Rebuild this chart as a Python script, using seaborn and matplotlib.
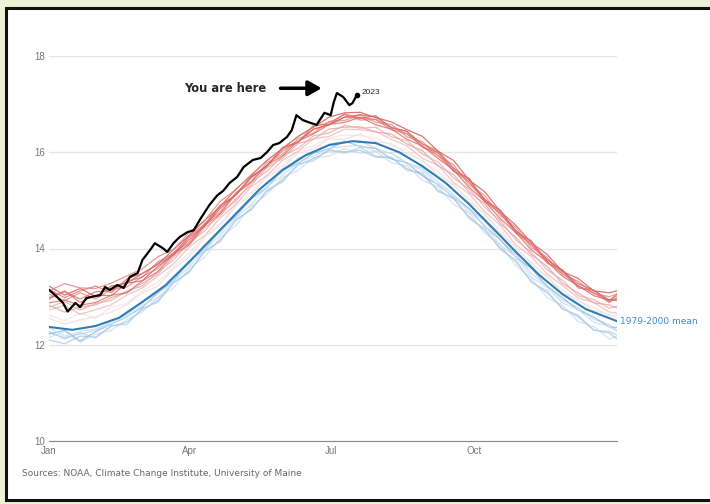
import matplotlib
matplotlib.use("Agg")
import matplotlib.pyplot as plt
from matplotlib.patches import Rectangle
import pandas as pd
import seaborn as sns

# day-of-year grid for the historical years (every 10 days)
days = [0, 10, 20, 30, 40, 50, 60, 70, 80, 90, 100, 110, 120, 130, 140, 150, 160, 170, 180,
        190, 200, 210, 220, 230, 240, 250, 260, 270, 280, 290, 300, 310, 320, 330, 340, 350, 360, 365]

# older years (blue)
y1979 = [12.25, 12.15, 12.22, 12.30, 12.48, 12.62, 12.88, 13.08, 13.42, 13.68, 14.08, 14.33, 14.72, 15.02, 15.38, 15.58,
         15.88, 15.98, 16.17, 16.22, 16.24, 16.08, 15.97, 15.78, 15.67, 15.38, 15.12, 14.83, 14.57, 14.18, 13.88, 13.48,
         13.22, 12.93, 12.77, 12.53, 12.42, 12.30]
y1982 = [12.15, 12.28, 12.05, 12.22, 12.30, 12.52, 12.68, 12.98, 13.18, 13.58, 13.82, 14.22, 14.48, 14.88, 15.12, 15.48,
         15.62, 15.88, 15.92, 16.08, 15.98, 16.02, 15.78, 15.72, 15.42, 15.28, 14.92, 14.74, 14.32, 14.08, 13.64, 13.38,
         12.98, 12.82, 12.48, 12.38, 12.12, 12.18]
y1985 = [12.10, 12.02, 12.18, 12.16, 12.38, 12.47, 12.73, 12.92, 13.28, 13.52, 13.93, 14.17, 14.58, 14.82, 15.18, 15.42,
         15.73, 15.87, 16.03, 16.01, 16.04, 15.90, 15.88, 15.66, 15.53, 15.21, 15.03, 14.66, 14.38, 14.01, 13.73, 13.31,
         13.08, 12.76, 12.58, 12.31, 12.24, 12.12]
y1988 = [12.28, 12.12, 12.25, 12.14, 12.40, 12.42, 12.76, 12.88, 13.30, 13.50, 13.96, 14.14, 14.60, 14.80, 15.22, 15.38,
         15.76, 15.82, 16.06, 15.98, 16.10, 15.92, 15.90, 15.62, 15.58, 15.18, 15.06, 14.62, 14.42, 13.98, 13.76, 13.30,
         13.12, 12.74, 12.62, 12.30, 12.28, 12.20]
y1992 = [12.22, 12.30, 12.08, 12.27, 12.43, 12.58, 12.78, 13.08, 13.33, 13.73, 13.98, 14.38, 14.67, 15.03, 15.27, 15.63,
         15.77, 15.98, 16.07, 16.23, 16.12, 16.08, 15.86, 15.78, 15.51, 15.33, 15.06, 14.83, 14.46, 14.18, 13.82, 13.58,
         13.22, 12.98, 12.72, 12.58, 12.37, 12.36]
y1996 = [12.35, 12.18, 12.28, 12.33, 12.43, 12.57, 12.83, 12.98, 13.32, 13.62, 13.98, 14.27, 14.63, 14.92, 15.28, 15.52,
         15.78, 15.92, 16.08, 16.12, 16.14, 16.02, 15.98, 15.76, 15.63, 15.31, 15.08, 14.76, 14.48, 14.06, 13.83, 13.41,
         13.18, 12.87, 12.73, 12.47, 12.38, 12.28]
# middle years (pale)
y2000 = [12.55, 12.43, 12.52, 12.58, 12.68, 12.83, 13.08, 13.22, 13.58, 13.83, 14.23, 14.47, 14.88, 15.12, 15.48, 15.67,
         15.98, 16.07, 16.28, 16.27, 16.38, 16.22, 16.18, 15.97, 15.83, 15.52, 15.33, 14.97, 14.73, 14.32, 14.03, 13.67,
         13.43, 13.07, 12.93, 12.72, 12.63, 12.55]
y2002 = [12.62, 12.50, 12.66, 12.55, 12.78, 12.86, 13.12, 13.30, 13.62, 13.90, 14.26, 14.52, 14.92, 15.18, 15.52, 15.72,
         16.02, 16.14, 16.30, 16.36, 16.34, 16.30, 16.14, 16.04, 15.80, 15.60, 15.30, 15.04, 14.70, 14.40, 14.00, 13.72,
         13.40, 13.14, 12.90, 12.78, 12.60, 12.62]
y2005 = [12.72, 12.82, 12.63, 12.73, 12.83, 13.03, 13.18, 13.43, 13.68, 14.03, 14.27, 14.63, 14.92, 15.28, 15.52, 15.83,
         16.02, 16.28, 16.33, 16.48, 16.47, 16.43, 16.27, 16.13, 15.87, 15.73, 15.37, 15.13, 14.77, 14.48, 14.07, 13.83,
         13.47, 13.23, 12.97, 12.88, 12.68, 12.66]
y2010 = [12.82, 12.68, 12.78, 12.83, 12.98, 13.08, 13.28, 13.47, 13.83, 14.07, 14.43, 14.68, 15.03, 15.32, 15.68, 15.87,
         16.18, 16.27, 16.48, 16.52, 16.53, 16.42, 16.38, 16.17, 16.03, 15.72, 15.53, 15.17, 14.93, 14.52, 14.23, 13.87,
         13.63, 13.27, 13.08, 12.87, 12.83, 12.76]
y2013 = [12.78, 12.90, 12.72, 12.86, 12.92, 13.12, 13.22, 13.52, 13.76, 14.12, 14.36, 14.74, 14.98, 15.38, 15.60, 15.92,
         16.08, 16.34, 16.40, 16.56, 16.50, 16.52, 16.32, 16.24, 15.96, 15.80, 15.46, 15.24, 14.86, 14.58, 14.18, 13.92,
         13.56, 13.34, 13.02, 12.94, 12.76, 12.80]
# recent years (red)
y2016 = [13.22, 13.03, 13.17, 13.00, 13.22, 13.28, 13.48, 13.67, 13.98, 14.27, 14.58, 14.87, 15.23, 15.52, 15.83, 16.07,
         16.33, 16.52, 16.73, 16.82, 16.83, 16.72, 16.63, 16.47, 16.33, 16.02, 15.83, 15.42, 15.18, 14.77, 14.48, 14.12,
         13.88, 13.52, 13.38, 13.12, 13.08, 13.12]
y2017 = [13.15, 12.98, 13.12, 13.22, 13.08, 13.37, 13.48, 13.68, 13.87, 14.23, 14.47, 14.88, 15.12, 15.48, 15.72, 16.03,
         16.22, 16.48, 16.57, 16.73, 16.72, 16.68, 16.47, 16.38, 16.12, 15.93, 15.62, 15.38, 15.02, 14.73, 14.37, 14.13,
         13.77, 13.53, 13.22, 13.08, 12.88, 12.98]
y2018 = [13.05, 12.92, 13.08, 12.95, 13.15, 13.20, 13.42, 13.58, 13.92, 14.12, 14.52, 14.76, 15.16, 15.40, 15.78, 15.96,
         16.28, 16.40, 16.64, 16.66, 16.78, 16.62, 16.58, 16.32, 16.22, 15.92, 15.74, 15.32, 15.10, 14.68, 14.44, 14.02,
         13.82, 13.46, 13.32, 13.06, 13.00, 13.05]
y2019 = [12.95, 13.12, 12.88, 13.03, 13.02, 13.28, 13.33, 13.63, 13.87, 14.18, 14.47, 14.83, 15.12, 15.48, 15.72, 16.08,
         16.22, 16.48, 16.57, 16.73, 16.78, 16.73, 16.52, 16.43, 16.17, 16.03, 15.67, 15.43, 15.02, 14.78, 14.37, 14.08,
         13.77, 13.53, 13.27, 13.13, 12.93, 12.92]
y2020 = [13.12, 13.27, 13.18, 13.17, 13.28, 13.43, 13.58, 13.83, 13.98, 14.33, 14.58, 14.98, 15.22, 15.53, 15.82, 16.08,
         16.32, 16.53, 16.62, 16.78, 16.67, 16.68, 16.52, 16.38, 16.17, 15.98, 15.67, 15.38, 14.97, 14.73, 14.32, 14.08,
         13.72, 13.48, 13.22, 13.08, 12.93, 13.02]
y2021 = [12.98, 13.10, 12.95, 13.10, 13.12, 13.32, 13.40, 13.72, 13.90, 14.26, 14.50, 14.90, 15.10, 15.50, 15.70, 16.10,
         16.20, 16.56, 16.58, 16.80, 16.70, 16.76, 16.50, 16.44, 16.10, 16.00, 15.60, 15.46, 14.98, 14.80, 14.34, 14.16,
         13.70, 13.56, 13.18, 13.14, 12.90, 13.06]
y2022 = [12.87, 12.93, 12.82, 12.88, 13.03, 13.08, 13.33, 13.52, 13.88, 14.08, 14.48, 14.72, 15.13, 15.38, 15.73, 15.92,
         16.23, 16.38, 16.58, 16.62, 16.73, 16.57, 16.48, 16.27, 16.13, 15.87, 15.63, 15.27, 14.98, 14.62, 14.33, 13.97,
         13.73, 13.42, 13.23, 13.02, 12.93, 12.95]

# 1979-2000 mean (every 15 days)
mean_days = [0, 15, 30, 45, 60, 75, 90, 105, 120, 135, 150, 165, 180, 195, 210, 225, 240, 255, 270, 285, 300, 315, 330, 345, 365]
mean_vals = [12.37, 12.31, 12.39, 12.56, 12.89, 13.24, 13.72, 14.22, 14.72, 15.22, 15.63, 15.94, 16.15, 16.23, 16.19, 16.00,
             15.71, 15.36, 14.92, 14.43, 13.93, 13.45, 13.05, 12.74, 12.49]

# 2023 so far
days_2023 = [0, 4, 9, 12, 17, 20, 24, 28, 33, 36, 39, 44, 48, 52, 57, 60, 65, 68, 73, 76, 80, 84, 89, 93, 97, 103, 108,
             112, 116, 121, 125, 131, 136, 140, 144, 148, 153, 156, 159, 163, 168, 172, 174, 177, 181, 183, 185, 189, 193, 195, 198]
vals_2023 = [13.14, 13.03, 12.87, 12.69, 12.87, 12.78, 12.97, 13.00, 13.03, 13.20, 13.14, 13.24, 13.18, 13.41, 13.49, 13.76,
             13.97, 14.11, 14.01, 13.93, 14.11, 14.24, 14.34, 14.38, 14.60, 14.90, 15.10, 15.20, 15.36, 15.49, 15.69, 15.84,
             15.88, 16.00, 16.15, 16.19, 16.32, 16.46, 16.77, 16.67, 16.61, 16.57, 16.67, 16.82, 16.77, 17.04, 17.23, 17.15,
             16.98, 17.02, 17.20]

years = {1979: y1979, 1982: y1982, 1985: y1985, 1988: y1988, 1992: y1992, 1996: y1996,
         2000: y2000, 2002: y2002, 2005: y2005, 2010: y2010, 2013: y2013,
         2016: y2016, 2017: y2017, 2018: y2018, 2019: y2019, 2020: y2020, 2021: y2021, 2022: y2022}
year_colors = {1979: "#b9d5ec", 1982: "#c9def0", 1985: "#a6c8e6", 1988: "#b2cfe9", 1992: "#8fbade",
               1996: "#c6dcef", 2000: "#f1dcdc", 2002: "#f3e4e4", 2005: "#efb8b8", 2010: "#e9a0a0",
               2013: "#eaaaaa", 2016: "#d9534f", 2017: "#e07470", 2018: "#e48a86", 2019: "#d8605c",
               2020: "#e3807c", 2021: "#de6e6a", 2022: "#dc6a66"}

rows = []
for yr, vals in years.items():
    for d, v in zip(days, vals):
        rows.append({"day": d, "temp": v, "year": yr})
df = pd.DataFrame(rows)

sns.set_style("white")
plt.rcParams["font.family"] = ["Liberation Sans", "DejaVu Sans"]

fig = plt.figure(figsize=(7.1, 5.04), dpi=100)
fig.patch.set_facecolor("#eef3d6")
frame = Rectangle((6 / 710, 4 / 504), 1.0, 1 - 12 / 504, transform=fig.transFigure,
                  facecolor="white", edgecolor="#111111", linewidth=2.2, zorder=-10)
fig.add_artist(frame)

ax = fig.add_axes([49 / 710, 63 / 504, 568 / 710, 385 / 504])
ax.set_facecolor("none")
ax.set_zorder(1)

sns.lineplot(data=df, x="day", y="temp", hue="year", palette=year_colors, ax=ax,
             linewidth=0.9, alpha=0.8, legend=False, estimator=None)
sns.lineplot(x=mean_days, y=mean_vals, ax=ax, color="#2f7db6", linewidth=1.5)
sns.lineplot(x=days_2023, y=vals_2023, ax=ax, color="black", linewidth=1.6)
ax.plot(days_2023[-1], vals_2023[-1], "o", color="black", markersize=3)

ax.set_xlim(0, 365)
ax.set_ylim(10, 18)
ax.set_yticks([10, 12, 14, 16, 18])
ax.set_xticks([0, 90, 181, 273, 365])
ax.set_xticklabels(["Jan", "Apr", "Jul", "Oct", ""])
ax.yaxis.grid(True, color="#e6e6e6", linewidth=1)
ax.tick_params(axis="y", length=0, labelsize=7, labelcolor="#777777", pad=3)
ax.tick_params(axis="x", direction="inout", length=5, width=0.8, color="#888888",
               labelsize=7, labelcolor="#777777", pad=1)
for s in ["top", "right", "left"]:
    ax.spines[s].set_visible(False)
ax.spines["bottom"].set_color("#888888")
ax.set_xlabel("")
ax.set_ylabel("")

ax.text(87, 17.33, "You are here", fontsize=8.3, fontweight="bold", va="center", ha="left",
        family="DejaVu Sans")
ax.annotate("", xy=(177, 17.33), xytext=(147, 17.33),
            arrowprops=dict(arrowstyle="-|>,head_width=0.45,head_length=0.8", color="black", lw=2.5))
ax.text(201, 17.25, "2023", fontsize=6, va="center", ha="left")
ax.text(367, 12.49, "1979-2000 mean", fontsize=6.5, color="#3d8ac4", va="center", ha="left",
        clip_on=False, family="DejaVu Sans")

fig.text(22 / 710, 1 - 474 / 504, "Sources: NOAA, Climate Change Institute, University of Maine",
         fontsize=6.5, color="#666666", va="center", family="DejaVu Sans")

fig.savefig("out.png", dpi=100)
